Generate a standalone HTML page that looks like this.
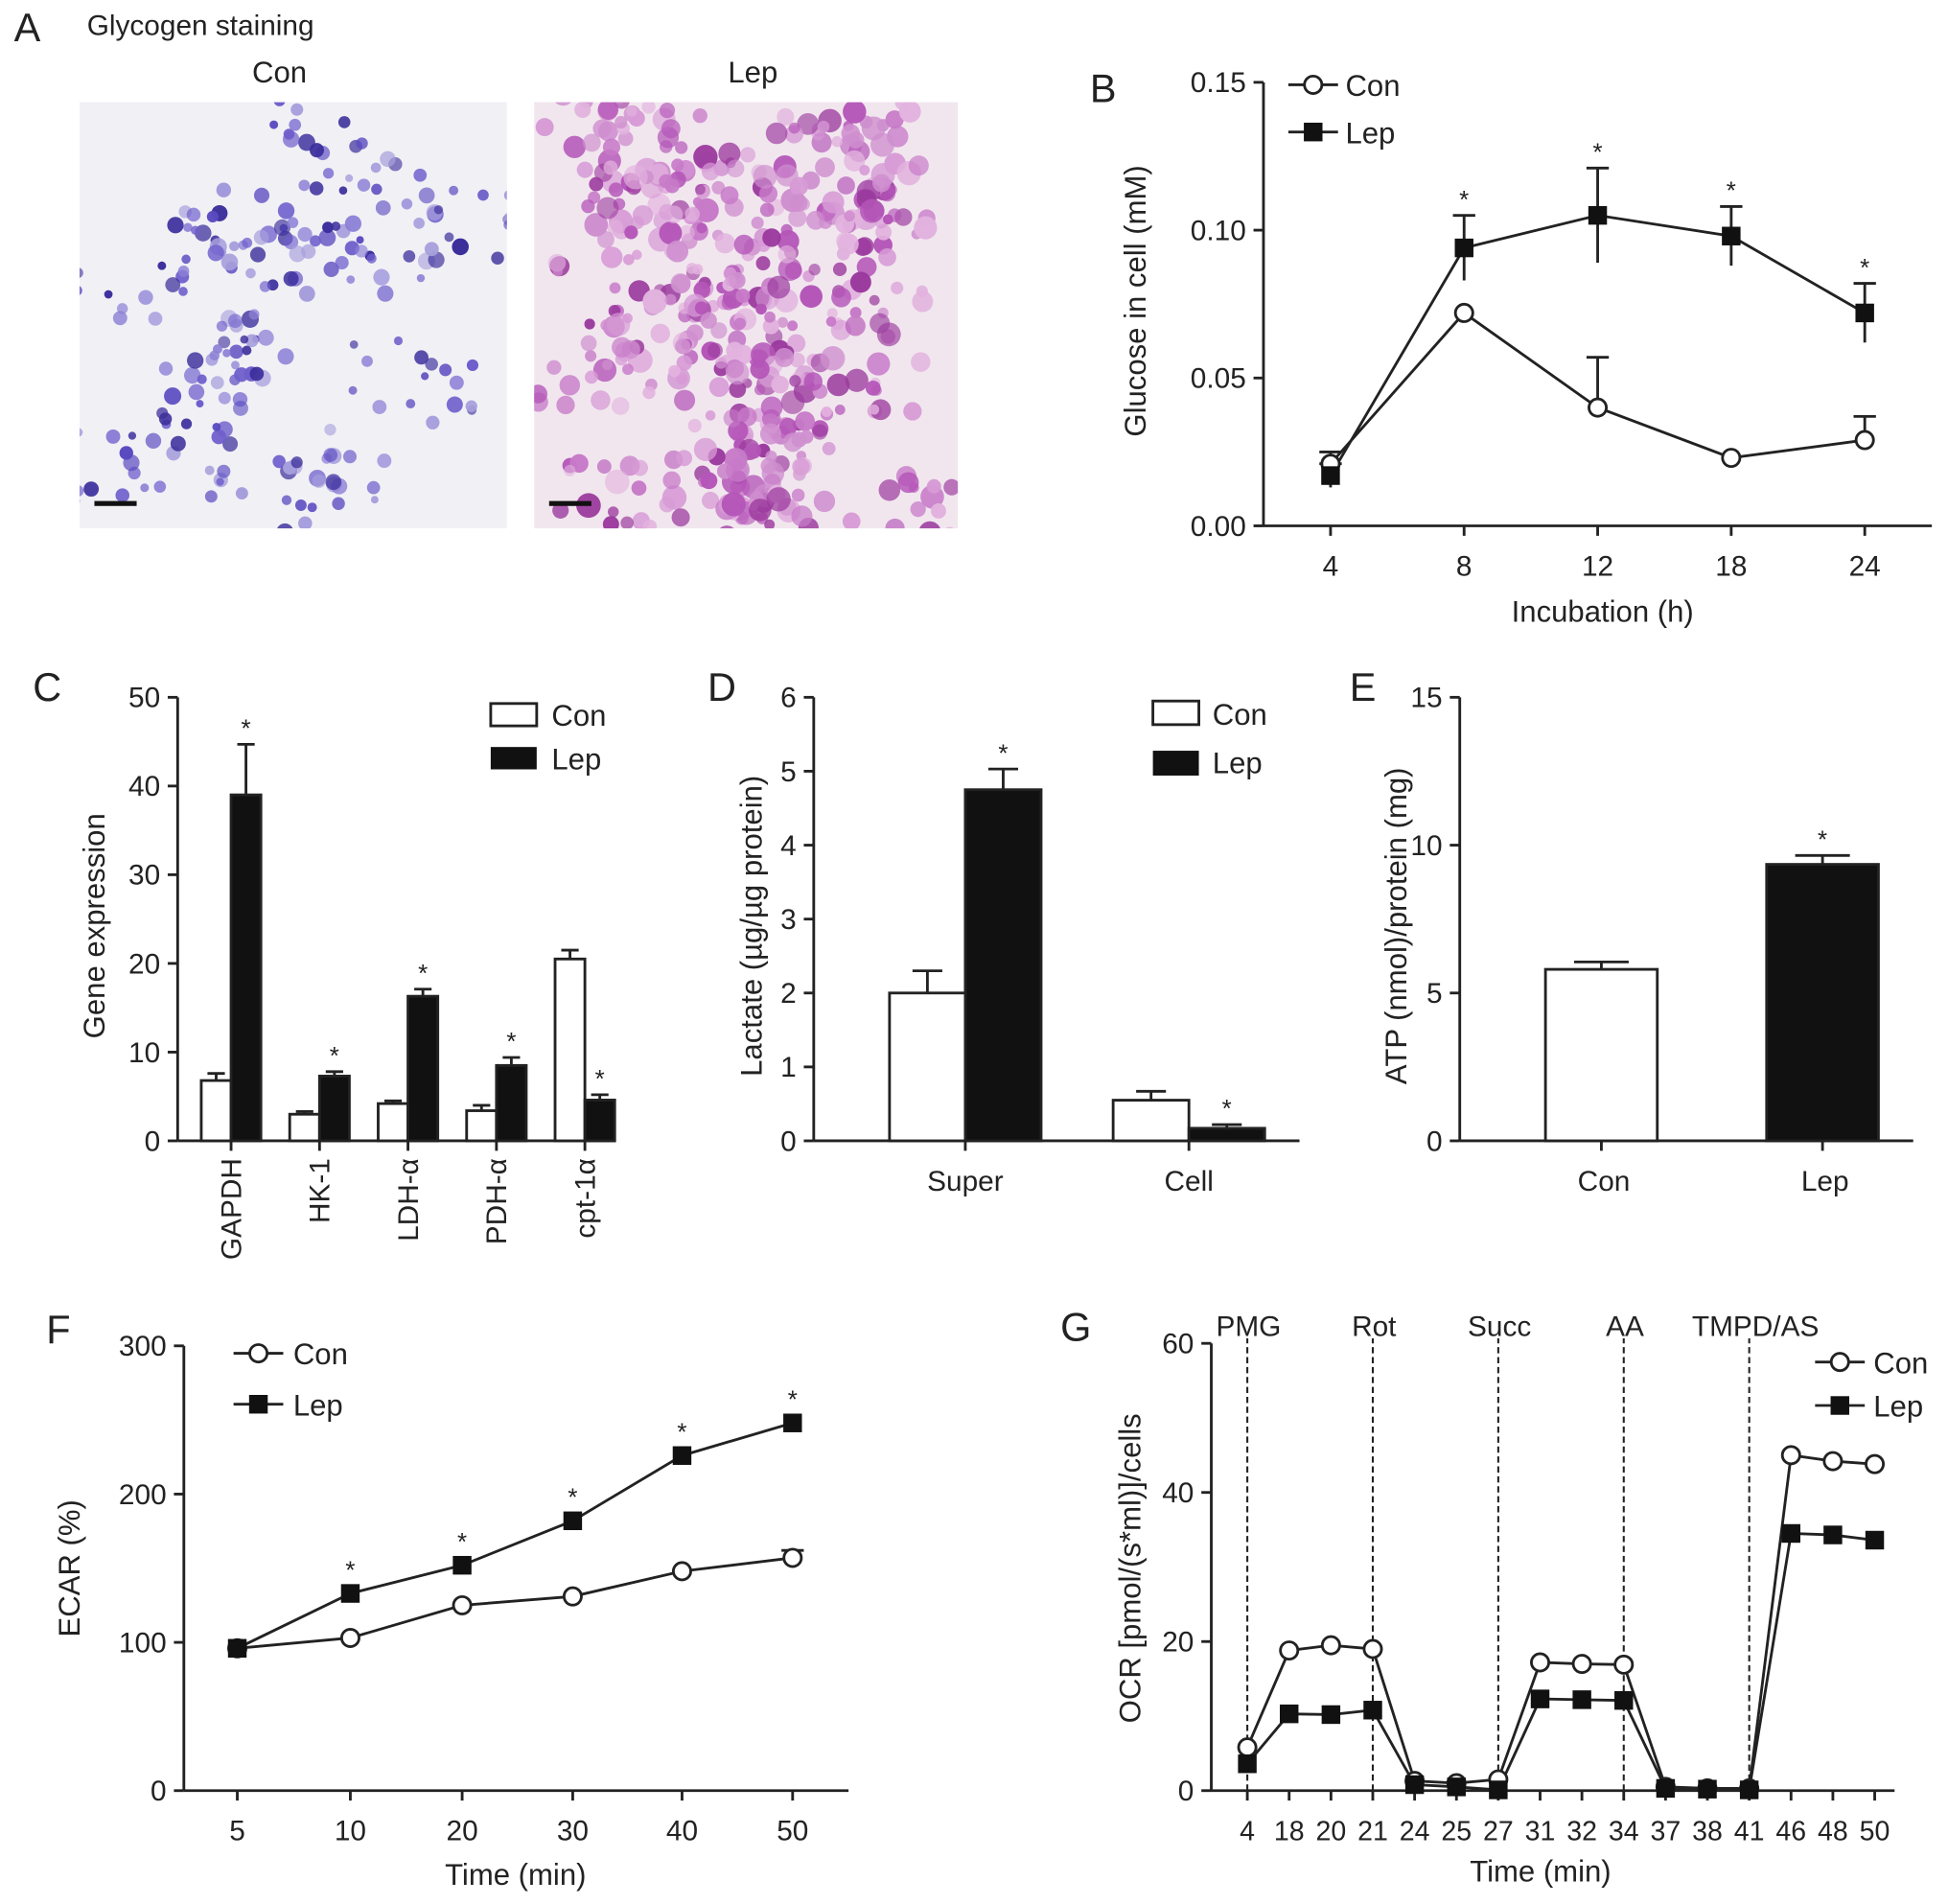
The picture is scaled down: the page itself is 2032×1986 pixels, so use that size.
<!DOCTYPE html>
<html><head><meta charset="utf-8">
<style>
html,body{margin:0;padding:0;background:#fff;}
svg{display:block;font-family:"Liberation Sans",Arial,sans-serif;}
text{fill:#222;}
</style></head>
<body>
<svg id="fig" width="2032" height="1986" viewBox="0 0 1568 1532" xmlns="http://www.w3.org/2000/svg">
<g id="root"></g>
</svg>
<script>
// ---------- DATA ----------
const bCats = ["4","8","12","18","24"];
const bCon = [0.021,0.072,0.040,0.023,0.029];
const bConErr = [0.004,0,0.017,0,0.008];
const bLep = [0.017,0.094,0.105,0.098,0.072];
const bLepErr = [0.004,0.011,0.016,0.010,0.010];
const bStar = [false,true,true,true,true];
const bTicks = ["0.00","0.05","0.10","0.15"];

const cCats = ["GAPDH","HK-1","LDH-α","PDH-α","cpt-1α"];
const cCon = [6.8,3.0,4.2,3.4,20.5];
const cConErr = [0.8,0.3,0.3,0.6,1.0];
const cLep = [39,7.3,16.3,8.5,4.6];
const cLepErr = [5.7,0.5,0.8,0.9,0.6];
const cTicks = [0,10,20,30,40,50];

const dCats = ["Super","Cell"];
const dCon = [2.0,0.55];
const dConErr = [0.3,0.12];
const dLep = [4.75,0.17];
const dLepErr = [0.28,0.05];
const dTicks = [0,1,2,3,4,5,6];

const eCats = ["Con","Lep"];
const eVals = [5.8,9.35];
const eErr = [0.25,0.3];
const eTicks = [0,5,10,15];

const fCats = ["5","10","20","30","40","50"];
const fCon = [96,103,125,131,148,157];
const fConErr = [0,0,0,0,0,5];
const fLep = [96,133,152,182,226,248];
const fStar = [false,true,true,true,true,true];
const fTicks = [0,100,200,300];

const gCats = ["4","18","20","21","24","25","27","31","32","34","37","38","41","46","48","50"];
const gCon = [5.8,18.8,19.5,19.0,1.3,1.0,1.5,17.2,17.0,16.9,0.5,0.3,0.3,45.0,44.2,43.8];
const gLep = [3.6,10.3,10.2,10.8,0.8,0.5,0.1,12.3,12.2,12.1,0.3,0.2,0.1,34.5,34.3,33.6];
const gMarkers = ["4","21","27","34","41"];
const gMarkerLabels = ["PMG","Rot","Succ","AA","TMPD/AS"];
const gTicks = [0,20,40,60];

// ---------- HELPERS ----------
const NS="http://www.w3.org/2000/svg";
const root=document.getElementById('root');
function el(tag,attrs,parent){const e=document.createElementNS(NS,tag);for(const k in attrs)e.setAttribute(k,attrs[k]);(parent||root).appendChild(e);return e;}
function txt(s,x,y,size,anchor,parent,extra){const t=el('text',Object.assign({x:x,y:y,'font-size':size,'text-anchor':anchor||'middle'},extra||{}),parent);t.textContent=s;return t;}
const SW=2.2;
function yAxis(g,x,y0,y1,ticks,scale,fmt){
  el('line',{x1:x,y1:y0,x2:x,y2:y1,stroke:'#222','stroke-width':SW},g);
  ticks.forEach((t,i)=>{const y=scale(typeof t==='string'?parseFloat(t):t);
    el('line',{x1:x-8,y1:y,x2:x,y2:y,stroke:'#222','stroke-width':SW},g);
    const l=txt(fmt?fmt(t):String(t),x-14,y+8,23,'end',g);
    
    
  });
}
function panelLabel(s,x,y){const t=txt(s,x,y,32,'middle');}
function rotLabel(g,s,x,y,size){const t=txt(s,x,y,size||24,'middle',g,{transform:`rotate(-90 ${x} ${y})`});return t;}
function circ(g,x,y,r){return el('circle',{cx:x,cy:y,r:r||7,fill:'#fff',stroke:'#222','stroke-width':SW},g);}
function sq(g,x,y,s){s=s||14;return el('rect',{x:x-s/2,y:y-s/2,width:s,height:s,fill:'#111'},g);}
function errUp(g,x,y,yTop,w){w=w||9;el('line',{x1:x,y1:y,x2:x,y2:yTop,stroke:'#222','stroke-width':SW},g);el('line',{x1:x-w,y1:yTop,x2:x+w,y2:yTop,stroke:'#222','stroke-width':SW},g);}
function star(g,x,y){const t=txt('*',x,y,20,'middle',g);}

// ---------- PANEL A ----------
(function(){
  const g=el('g',{});
  panelLabel('A',22,33);
  txt('Glycogen staining',70,28,23,'start',g);
  txt('Con',225,66,24,'middle',g);
  txt('Lep',606,66,24,'middle',g);
  let seed=11;function rnd(){seed=(seed*16807)%2147483647;return seed/2147483647;}
  function img(x0,y0,w,h,bg,cols,nc,per,spread,rmin,rmax,name){
    const gi=el('g',{},g);
    el('rect',{x:x0,y:y0,width:w,height:h,fill:bg},gi);
    const cp=el('clipPath',{id:name+'-clip'},gi);el('rect',{x:x0,y:y0,width:w,height:h},cp);
    const gc=el('g',{'clip-path':`url(#${name}-clip)`},gi);
    for(let c=0;c<nc;c++){
      const ccx=x0+rnd()*w, ccy=y0+rnd()*h;
      for(let i=0;i<per;i++){
        const cx=ccx+(rnd()-0.5)*spread*2, cy=ccy+(rnd()-0.5)*spread*2;
        const r=rmin+rnd()*(rmax-rmin);
        el('circle',{cx:cx,cy:cy,r:r,fill:cols[Math.floor(rnd()*cols.length)],opacity:0.6+rnd()*0.4},gc);
      }
    }
    el('rect',{x:x0+12,y:y0+h-22,width:34,height:4,fill:'#111'},gi);
  }
  img(64,82,344,343,'#f1f0f5',['#5a4ac0','#6e5ecc','#8c80d6','#3c2f9c','#a79fdc'],28,8,30,3,7,'con-image');
  img(430,82,341,343,'#f1e6ee',['#c77ac8','#d79ad6','#b455b8','#e2b2de','#9b3a9e','#cf8fcf'],40,13,38,4,10,'lep-image');
})();

// ---------- PANEL B ----------
(function(){
  const g=el('g',{});
  panelLabel('B',888,82);
  const X0=1017,Y0=423,Y1=66,max=0.15;
  const xs=[1071,1179,1287,1395,1501];
  const y=v=>Y0-(v/max)*(Y0-Y1);
  const xi=i=>xs[0]+i*(xs[4]-xs[0])/(bCats.length-1);
  yAxis(g,X0,Y0,Y1,bTicks,v=>y(v));
  el('line',{x1:X0,y1:Y0,x2:1555,y2:Y0,stroke:'#222','stroke-width':SW},g);
  bCats.forEach((c,i)=>{el('line',{x1:xi(i),y1:Y0,x2:xi(i),y2:Y0+8,stroke:'#222','stroke-width':SW},g);const t=txt(c,xi(i),Y0+40,23,'middle',g);});
  const xl=txt('Incubation (h)',1290,500,24,'middle',g);
  rotLabel(g,'Glucose in cell (mM)',922,242);
  el('polyline',{points:bCon.map((v,i)=>xi(i)+','+y(v)).join(' '),fill:'none',stroke:'#222','stroke-width':SW},g);
  el('polyline',{points:bLep.map((v,i)=>xi(i)+','+y(v)).join(' '),fill:'none',stroke:'#222','stroke-width':SW},g);
  bCon.forEach((v,i)=>{if(bConErr[i]>0)errUp(g,xi(i),y(v),y(v+bConErr[i]));});
  bLep.forEach((v,i)=>{errUp(g,xi(i),y(v-bLepErr[i]),y(v+bLepErr[i]));if(bStar[i])star(g,xi(i),y(v+bLepErr[i])-6);});
  bCon.forEach((v,i)=>{const c=circ(g,xi(i),y(v));});
  bLep.forEach((v,i)=>{const s=sq(g,xi(i),y(v),15);});
  const lg=el('g',{},g);
  el('line',{x1:1037,y1:68,x2:1077,y2:68,stroke:'#222','stroke-width':SW},lg);circ(lg,1057,68);txt('Con',1083,77,24,'start',lg);
  el('line',{x1:1037,y1:106,x2:1077,y2:106,stroke:'#222','stroke-width':SW},lg);sq(lg,1057,106,15);txt('Lep',1083,115,24,'start',lg);
})();

// ---------- PANEL C ----------
(function(){
  const g=el('g',{});
  panelLabel('C',38,564);
  const X0=143,Y0=918,Y1=561,max=50,bw=24;
  const y=v=>Y0-(v/max)*(Y0-Y1);
  const cx=i=>186+i*71.2;
  yAxis(g,X0,Y0,Y1,cTicks,y);
  el('line',{x1:X0,y1:Y0,x2:495,y2:Y0,stroke:'#222','stroke-width':SW},g);
  rotLabel(g,'Gene expression',84,745);
  cCats.forEach((c,i)=>{
    const x=cx(i);
    el('line',{x1:x,y1:Y0,x2:x,y2:Y0+8,stroke:'#222','stroke-width':SW},g);
    const t=txt(c,x+8,Y0+14,23,'end',g,{transform:`rotate(-90 ${x+8} ${Y0+14})`});
    errUp(g,x-bw/2,y(cCon[i]),y(cCon[i]+cConErr[i]),7);
    const b1=el('rect',{x:x-bw,y:y(cCon[i]),width:bw,height:Y0-y(cCon[i]),fill:'#fff',stroke:'#222','stroke-width':SW},g);
    errUp(g,x+bw/2,y(cLep[i]),y(cLep[i]+cLepErr[i]),7);
    const b2=el('rect',{x:x,y:y(cLep[i]),width:bw,height:Y0-y(cLep[i]),fill:'#111',stroke:'#222','stroke-width':SW},g);
    star(g,x+bw/2,y(cLep[i]+cLepErr[i])-6);
  });
  const lg=el('g',{},g);
  el('rect',{x:395,y:566,width:37,height:18,fill:'#fff',stroke:'#222','stroke-width':SW},lg);txt('Con',444,584,24,'start',lg);
  el('rect',{x:395,y:601,width:37,height:18,fill:'#111'},lg);txt('Lep',444,619,24,'start',lg);
})();

// ---------- PANEL D ----------
(function(){
  const g=el('g',{});
  panelLabel('D',581,564);
  const X0=655,Y0=918,Y1=561,max=6,bw=61;
  const y=v=>Y0-(v/max)*(Y0-Y1);
  const cx=i=>777+i*180;
  yAxis(g,X0,Y0,Y1,dTicks,y);
  el('line',{x1:X0,y1:Y0,x2:1046,y2:Y0,stroke:'#222','stroke-width':SW},g);
  rotLabel(g,'Lactate (µg/µg protein)',613,745);
  dCats.forEach((c,i)=>{
    const x=cx(i);
    el('line',{x1:x,y1:Y0,x2:x,y2:Y0+8,stroke:'#222','stroke-width':SW},g);
    const t=txt(c,x,Y0+40,23,'middle',g);
    errUp(g,x-bw/2,y(dCon[i]),y(dCon[i]+dConErr[i]),12);
    const b1=el('rect',{x:x-bw,y:y(dCon[i]),width:bw,height:Y0-y(dCon[i]),fill:'#fff',stroke:'#222','stroke-width':SW},g);
    errUp(g,x+bw/2,y(dLep[i]),y(dLep[i]+dLepErr[i]),12);
    const b2=el('rect',{x:x,y:y(dLep[i]),width:bw,height:Y0-y(dLep[i]),fill:'#111',stroke:'#222','stroke-width':SW},g);
    star(g,x+bw/2,y(dLep[i]+dLepErr[i])-6);
  });
  const lg=el('g',{},g);
  el('rect',{x:928,y:564,width:37,height:19,fill:'#fff',stroke:'#222','stroke-width':SW},lg);txt('Con',976,583,24,'start',lg);
  el('rect',{x:928,y:604,width:37,height:20,fill:'#111'},lg);txt('Lep',976,622,24,'start',lg);
})();

// ---------- PANEL E ----------
(function(){
  const g=el('g',{});
  panelLabel('E',1097,564);
  const X0=1175,Y0=918,Y1=561,max=15,bw=90;
  const y=v=>Y0-(v/max)*(Y0-Y1);
  const cx=i=>1289+i*178;
  yAxis(g,X0,Y0,Y1,eTicks,y);
  el('line',{x1:X0,y1:Y0,x2:1540,y2:Y0,stroke:'#222','stroke-width':SW},g);
  rotLabel(g,'ATP (nmol)/protein (mg)',1132,745);
  eCats.forEach((c,i)=>{
    const x=cx(i);
    el('line',{x1:x,y1:Y0,x2:x,y2:Y0+8,stroke:'#222','stroke-width':SW},g);
    const t=txt(c,x+2,Y0+40,23,'middle',g);
    errUp(g,x,y(eVals[i]),y(eVals[i]+eErr[i]),22);
    const b=el('rect',{x:x-bw/2,y:y(eVals[i]),width:bw,height:Y0-y(eVals[i]),fill:i?'#111':'#fff',stroke:'#222','stroke-width':SW},g);
  });
  star(g,cx(1),y(eVals[1]+eErr[1])-6);
})();

// ---------- PANEL F ----------
(function(){
  const g=el('g',{});
  panelLabel('F',47,1081);
  const X0=148,Y0=1441,Y1=1083,max=300;
  const xs=[191,282,372,461,549,638];
  const y=v=>Y0-(v/max)*(Y0-Y1);
  const xi=i=>xs[i];
  yAxis(g,X0,Y0,Y1,fTicks,y);
  el('line',{x1:X0,y1:Y0,x2:683,y2:Y0,stroke:'#222','stroke-width':SW},g);
  fCats.forEach((c,i)=>{el('line',{x1:xi(i),y1:Y0,x2:xi(i),y2:Y0+8,stroke:'#222','stroke-width':SW},g);const t=txt(c,xi(i),Y0+40,23,'middle',g);});
  const xl=txt('Time (min)',415,1517,24,'middle',g);
  rotLabel(g,'ECAR (%)',64,1262);
  el('polyline',{points:fCon.map((v,i)=>xi(i)+','+y(v)).join(' '),fill:'none',stroke:'#222','stroke-width':SW},g);
  el('polyline',{points:fLep.map((v,i)=>xi(i)+','+y(v)).join(' '),fill:'none',stroke:'#222','stroke-width':SW},g);
  fCon.forEach((v,i)=>{if(fConErr[i]>0)errUp(g,xi(i),y(v),y(v+fConErr[i]));});
  fCon.forEach((v,i)=>{circ(g,xi(i),y(v));});
  fLep.forEach((v,i)=>{sq(g,xi(i),y(v),15);if(fStar[i])star(g,xi(i),y(v)-12);});
  const lg=el('g',{},g);
  el('line',{x1:188,y1:1089,x2:228,y2:1089,stroke:'#222','stroke-width':SW},lg);circ(lg,208,1089);txt('Con',236,1098,24,'start',lg);
  el('line',{x1:188,y1:1130,x2:228,y2:1130,stroke:'#222','stroke-width':SW},lg);sq(lg,208,1130,15);txt('Lep',236,1139,24,'start',lg);
})();

// ---------- PANEL G ----------
(function(){
  const g=el('g',{});
  panelLabel('G',866,1079);
  const X0=975,Y0=1441,Y1=1081,max=60;
  const y=v=>Y0-(v/max)*(Y0-Y1);
  const xi=i=>1004+i*(1509-1004)/(gCats.length-1);
  yAxis(g,X0,Y0,Y1,gTicks,y);
  el('line',{x1:X0,y1:Y0,x2:1525,y2:Y0,stroke:'#222','stroke-width':SW},g);
  gCats.forEach((c,i)=>{el('line',{x1:xi(i),y1:Y0,x2:xi(i),y2:Y0+8,stroke:'#222','stroke-width':SW},g);const t=txt(c,xi(i),Y0+40,22,'middle',g);});
  const xl=txt('Time (min)',1240,1514,24,'middle',g);
  rotLabel(g,'OCR [pmol/(s*ml)]/cells',918,1262);
  gMarkers.forEach((m,k)=>{const i=gCats.indexOf(m);const x=xi(i);
    const l=el('line',{x1:x,y1:Y0,x2:x,y2:Y1-4,stroke:'#222','stroke-width':1.6,'stroke-dasharray':'5,3'},g);
    const t=txt(gMarkerLabels[k],x+(k===4?5:1),1075,23,'middle',g);});
  el('polyline',{points:gCon.map((v,i)=>xi(i)+','+y(v)).join(' '),fill:'none',stroke:'#222','stroke-width':SW},g);
  el('polyline',{points:gLep.map((v,i)=>xi(i)+','+y(v)).join(' '),fill:'none',stroke:'#222','stroke-width':SW},g);
  gCon.forEach((v,i)=>{circ(g,xi(i),y(v));});
  gLep.forEach((v,i)=>{sq(g,xi(i),y(v),15);});
  const lg=el('g',{},g);
  el('line',{x1:1461,y1:1096,x2:1501,y2:1096,stroke:'#222','stroke-width':SW},lg);circ(lg,1481,1096);txt('Con',1508,1105,24,'start',lg);
  el('line',{x1:1461,y1:1131,x2:1501,y2:1131,stroke:'#222','stroke-width':SW},lg);sq(lg,1481,1131,15);txt('Lep',1508,1140,24,'start',lg);
})();
</script>
</body></html>
